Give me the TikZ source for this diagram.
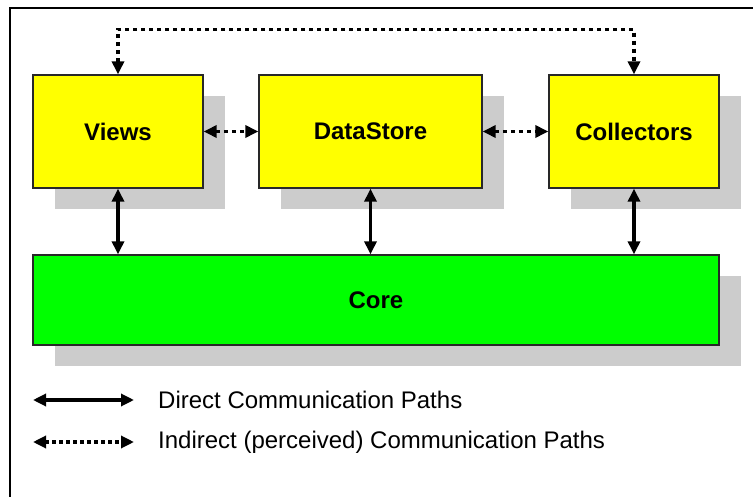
\documentclass[tikz,border=0pt]{standalone}
\usepackage{fontspec}
\setmainfont{Liberation Sans}
\usetikzlibrary{arrows.meta}
\usetikzlibrary{shadows}

\definecolor{boxyellow}{RGB}{255,255,0}
\definecolor{coregreen}{RGB}{0,255,0}
\definecolor{shadowgray}{RGB}{204,204,204}
\definecolor{edgegray}{RGB}{40,40,40}

\tikzset{
 module/.style={draw=edgegray,line width=1.3pt,fill=boxyellow,minimum height=113pt,
   font=\fontsize{24}{28}\selectfont\bfseries,
   drop shadow={shadow xshift=22pt,shadow yshift=-21pt,fill=shadowgray,opacity=1}},
 direct/.style={line width=3.2pt,{Triangle[length=13pt,width=12pt]}-{Triangle[length=13pt,width=12pt]}},
 indirect/.style={direct,dash pattern=on 4pt off 4pt},
 legendtext/.style={anchor=west,inner sep=0pt,font=\fontsize{24}{28}\selectfont},
}

\begin{document}
\begin{tikzpicture}[x=1pt,y=1pt]
 \useasboundingbox (0,0) rectangle (753,-497);
 \fill[white] (0,0) rectangle (753,-497);
 % frame
 \draw[line width=1.5pt] (10,-497)--(10,-8)--(753,-8);
 % modules
 \node[module,minimum width=170pt] (views) at (118,-131.5) {Views};
 \node[module,minimum width=223pt] (store) at (370.5,-131.5) {DataStore};
 \node[module,minimum width=170pt] (collectors) at (634,-131.5) {Collectors};
 \node[module,fill=coregreen,minimum width=686pt,minimum height=90pt] (core) at (376,-300) {Core};
 % indirect paths
 \draw[indirect] (views.east)--(store.west);
 \draw[indirect] (store.east)--(collectors.west);
 \draw[indirect] (views.north)--++(0,45)-|(collectors.north);
 % direct paths
 \draw[direct] (views.south)--(views.south|-core.north);
 \draw[direct] (store.south)--(store.south|-core.north);
 \draw[direct] (collectors.south)--(collectors.south|-core.north);
 % legend
 \coordinate (d1) at (33,-400);
 \coordinate (d2) at (134,-400);
 \coordinate (i1) at (33,-442);
 \coordinate (i2) at (134,-442);
 \draw[direct] (d1)--(d2);
 \draw[indirect,dash pattern=on 3.5pt off 3.5pt] (i1)--(i2);
 \node[legendtext] (directlabel) at (158,-400) {Direct Communication Paths};
 \node[legendtext] (indirectlabel) at (158,-442) {Indirect (perceived) Communication Paths};
\end{tikzpicture}
\end{document}
